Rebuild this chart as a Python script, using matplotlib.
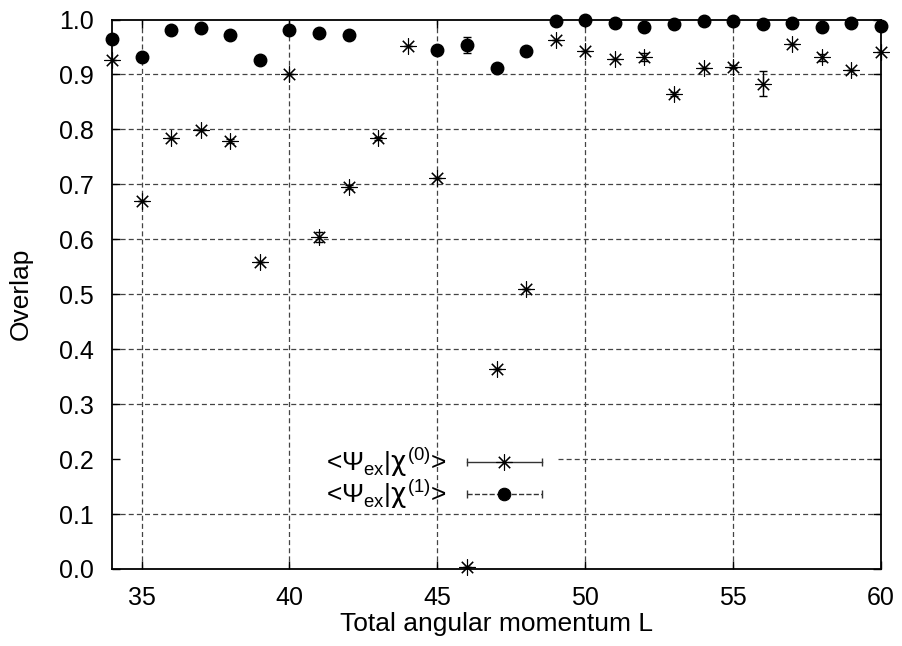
import numpy as np
import matplotlib
matplotlib.use("Agg")
import matplotlib.pyplot as plt
from matplotlib.lines import Line2D
from matplotlib.legend_handler import HandlerBase

plt.rcParams["font.family"] = ["Liberation Sans", "DejaVu Sans"]
plt.rcParams["mathtext.fontset"] = "custom"
plt.rcParams["mathtext.rm"] = "Liberation Sans"
plt.rcParams["mathtext.it"] = "DejaVu Sans"

L = np.arange(34, 61)

# <Psi_ex|chi(0)>
chi0 = [0.926, 0.670, 0.785, 0.799, 0.779, 0.559, 0.901, 0.605, 0.695,
        0.784, 0.951, 0.712, 0.003, 0.364, 0.509, 0.963, 0.943, 0.928,
        0.932, 0.864, 0.912, 0.914, 0.883, 0.955, 0.931, 0.908, 0.941]
chi0_err = [0, 0, 0, 0, 0.003, 0, 0, 0.009, 0.003,
            0.003, 0, 0, 0, 0, 0, 0, 0, 0,
            0.007, 0.004, 0, 0.003, 0.023, 0, 0.006, 0, 0]

# <Psi_ex|chi(1)>  (no points at L=43, 44)
chi1 = [0.965, 0.932, 0.980, 0.984, 0.971, 0.926, 0.981, 0.976, 0.972,
        np.nan, np.nan, 0.945, 0.954, 0.912, 0.943, 0.998, 0.999, 0.993,
        0.987, 0.991, 0.997, 0.997, 0.991, 0.994, 0.986, 0.994, 0.989]
chi1_err = [0, 0, 0, 0, 0, 0, 0, 0, 0,
            0, 0, 0, 0.015, 0, 0, 0, 0, 0,
            0, 0, 0, 0, 0, 0, 0, 0, 0]

labels = [r"<$\Psi_{\mathrm{ex}}|\chi^{\mathrm{(0)}}$>",
          r"<$\Psi_{\mathrm{ex}}|\chi^{\mathrm{(1)}}$>"]

xticks = [35, 40, 45, 50, 55, 60]
yticks = np.round(np.arange(0, 1.01, 0.1), 1)

STAR = (8, 2, 0)
FS = 18


class GnuKey(HandlerBase):
    # gnuplot-like key sample: bar with end caps and the point in the middle
    def create_artists(self, legend, orig_handle, xdescent, ydescent,
                       width, height, fontsize, trans):
        ls, marker, ms = orig_handle
        y = height / 2 - ydescent
        x0, x1 = -xdescent, width - xdescent
        bar = Line2D([x0, x1], [y, y], ls=ls, color="#333333", lw=1)
        caps = Line2D([x0, x1], [y, y], ls="none", marker="|", ms=6,
                      mew=1, color="#333333")
        pt = Line2D([(x0 + x1) / 2], [y], ls="none", marker=marker, ms=ms,
                    color="k", mew=0.8)
        for a in (bar, caps, pt):
            a.set_transform(trans)
        return [bar, caps, pt]


fig = plt.figure(figsize=(9.02, 6.46), dpi=100)
ax = fig.add_axes([0.1242, 0.1192, 0.8525, 0.8506])

ax.set_xlim(34, 60)
ax.set_ylim(0, 1)

# grid (the 0.2 line is cut where the key sits, like gnuplot)
grid_kw = dict(color="#444444", lw=0.9, ls=(0, (4, 2.5)), zorder=1)
for x in xticks:
    if x < 60:
        ax.axvline(x, **grid_kw)
for y in yticks:
    if 0 < y < 1:
        xmin = 0.58 if y == 0.2 else 0
        ax.axhline(y, xmin=xmin, **grid_kw)

ax.errorbar(L, chi0, yerr=chi0_err, fmt="none", ecolor="k", elinewidth=1,
            capsize=3, capthick=1, zorder=3)
ax.plot(L, chi0, ls="none", marker=STAR, ms=11.5, mew=0.8, color="k",
        clip_on=False, zorder=4)

ax.errorbar(L, chi1, yerr=chi1_err, fmt="none", ecolor="k", elinewidth=1,
            capsize=3, capthick=1, zorder=3)
ax.plot(L, chi1, ls="none", marker="o", ms=9, color="k",
        clip_on=False, zorder=4)

ax.set_xticks(xticks)
ax.set_yticks(yticks)
ax.set_yticklabels(["%.1f" % v for v in yticks])
ax.tick_params(direction="in", length=6, width=1, labelsize=FS, pad=12,
               top=True, right=True)
ax.tick_params(axis="y", pad=13)
for s in ax.spines.values():
    s.set_linewidth(1.3)

ax.set_xlabel("Total angular momentum L", fontsize=FS + 1, labelpad=2)
ax.set_ylabel("Overlap", fontsize=FS + 1, labelpad=19)

handles = [("-", STAR, 11.5), ("--", "o", 9)]
ax.legend(handles, labels, handler_map={tuple: GnuKey()},
          loc="center right", bbox_to_anchor=(0.559, 0.165),
          frameon=False, markerfirst=False, fontsize=FS + 1,
          handlelength=2.85, handletextpad=0.76, labelspacing=-0.05,
          borderpad=0, borderaxespad=0)

plt.savefig("out.png", dpi=100)
